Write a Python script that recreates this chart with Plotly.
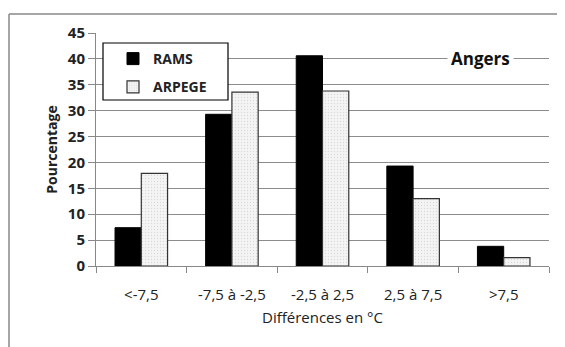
import plotly.graph_objects as go

categories = ["<-7,5", "-7,5 à -2,5", "-2,5 à 2,5", "2,5 à 7,5", ">7,5"]
rams = [7.4, 29.3, 40.6, 19.3, 3.8]
arpege = [17.9, 33.6, 33.8, 13.0, 1.6]
y_ticks = [0, 5, 10, 15, 20, 25, 30, 35, 40, 45]

W, H = 565, 347
OFF = 8  # page body margin offset
L, R, T, B = 96 - OFF, 16 + OFF, 33 - OFF, 81 + OFF
pw, ph = W - L - R, H - T - B

def px_x(x):
    return (x - OFF - L) / pw

def px_y(y):
    return (H - B - (y - OFF)) / ph

fig = go.Figure()
fig.add_trace(go.Bar(name="RAMS", x=categories, y=rams, legendgroup="a",
                     marker=dict(color="#000000", line=dict(color="#000000", width=1))))
fig.add_trace(go.Bar(name="ARPEGE", x=categories, y=arpege, legendgroup="b",
                     marker=dict(color="#efefef", line=dict(color="#333333", width=1.2),
                                 pattern=dict(shape=".", size=3, solidity=0.15, fgcolor="#bbbbbb", bgcolor="#f4f4f4"))))

fig.update_layout(
    width=W, height=H,
    margin=dict(l=L, r=R, t=T, b=B, autoexpand=False),
    paper_bgcolor="white", plot_bgcolor="white",
    barmode="group", bargap=0.42, bargroupgap=0,
    font=dict(family="Open Sans", color="#222222"),
    showlegend=True,
    legend=dict(x=px_x(113), y=px_y(43), xanchor="left", yanchor="top",
                borderwidth=0, bgcolor="rgba(0,0,0,0)",
                font=dict(size=14, family="Open Sans", weight="bold"),
                itemwidth=30, tracegroupgap=7),
    xaxis=dict(showline=True, linecolor="#888888", linewidth=1,
               ticks="outside", tickson="boundaries", ticklen=6, tickcolor="#888888",
               ticklabelstandoff=15,
               tickfont=dict(size=15, family="Open Sans"),
               title=dict(text="Différences en °C", font=dict(size=15, family="Open Sans"), standoff=9)),
    yaxis=dict(range=[0, 45], tickvals=y_ticks, showgrid=True, gridcolor="#8c8c8c", gridwidth=1,
               showline=True, linecolor="#888888", linewidth=1,
               ticks="outside", ticklen=7, tickcolor="#888888",
               tickfont=dict(size=15, family="Open Sans", weight="bold"),
               title=dict(text="Pourcentage", font=dict(size=14, family="Open Sans", weight="bold"), standoff=6),
               zeroline=False),
    annotations=[dict(text="<b>Angers</b>", x=px_x(480), y=40, xref="paper", yref="y",
                      xanchor="center", yanchor="middle",
                      showarrow=False, bgcolor="white", font=dict(size=17, family="Open Sans", color="#111111"),
                      borderpad=3)],
    shapes=[
        dict(type="line", xref="paper", yref="paper", x0=px_x(9), x1=px_x(575), y0=px_y(14), y1=px_y(14),
             line=dict(color="#888888", width=1.5)),
        dict(type="line", xref="paper", yref="paper", x0=px_x(9), x1=px_x(9), y0=px_y(14), y1=px_y(360),
             line=dict(color="#888888", width=1.5)),
        dict(type="rect", xref="paper", yref="paper", layer="above",
             x0=px_x(103), x1=px_x(228), y0=px_y(43), y1=px_y(100),
             fillcolor="white", line=dict(color="#000000", width=1.2)),
    ],
)

fig.write_html("out.html")
